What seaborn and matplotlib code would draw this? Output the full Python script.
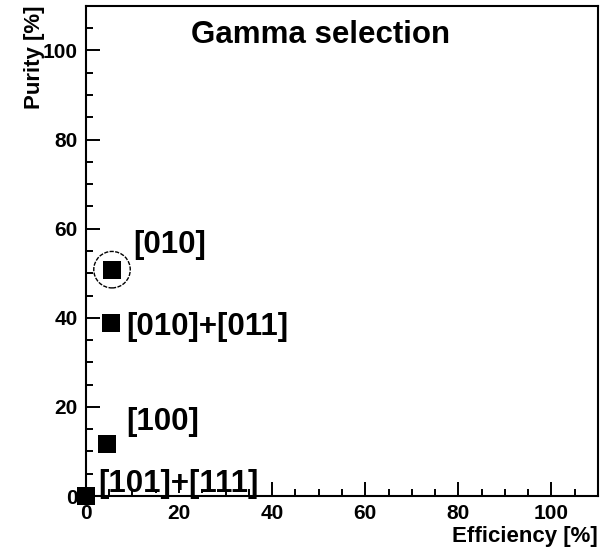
import matplotlib
matplotlib.use("Agg")
import matplotlib.pyplot as plt
import seaborn as sns
import pandas as pd
from matplotlib.ticker import MultipleLocator
from matplotlib.patches import Rectangle

labels = ["[010]", "[010]+[011]", "[100]", "[101]+[111]"]
efficiency = [5.6, 5.4, 4.5, 0.0]
purity = [50.8, 38.9, 11.7, 0.0]
highlight = ["[010]"]

df = pd.DataFrame({"label": labels, "eff": efficiency, "pur": purity})

sns.set_theme(style="ticks")
plt.rcParams["font.family"] = ["Liberation Sans", "DejaVu Sans"]
plt.rcParams["font.weight"] = "bold"
plt.rcParams["text.color"] = "black"
plt.rcParams["axes.labelcolor"] = "black"

fig = plt.figure(figsize=(6.01, 5.47), dpi=100)
ax = fig.add_axes([0.143, 0.0932, 0.852, 0.896])

sns.scatterplot(data=df, x="eff", y="pur", marker="s", s=150, color="black",
                linewidth=0, ax=ax, zorder=3, clip_on=False)
hl = df[df["label"].isin(highlight)]
ax.scatter(hl["eff"], hl["pur"], s=690, facecolors="none", edgecolors="black",
           linewidths=1.0, linestyles=(0, (3, 1)), zorder=3)

offsets = {"[010]": (15, 18), "[010]+[011]": (11, -3), "[100]": (14, 16), "[101]+[111]": (9, 9)}
for lab, x, y in zip(labels, efficiency, purity):
    ax.annotate(lab, (x, y), xytext=offsets[lab], textcoords="offset points",
                fontsize=22.5, fontweight="bold", ha="left", va="center",
                color="black", zorder=4)

ax.set_xlim(0, 110)
ax.set_ylim(0, 110)
ax.xaxis.set_major_locator(MultipleLocator(20))
ax.xaxis.set_minor_locator(MultipleLocator(5))
ax.yaxis.set_major_locator(MultipleLocator(20))
ax.yaxis.set_minor_locator(MultipleLocator(5))
ax.tick_params(which="both", direction="in", top=False, right=False, width=1.4,
               labelsize=15, colors="black")
ax.tick_params(which="major", length=10, pad=6)
ax.tick_params(which="minor", length=5)
for lbl in ax.get_xticklabels() + ax.get_yticklabels():
    lbl.set_fontweight("bold")
for sp in ax.spines.values():
    sp.set_linewidth(1.5)
    sp.set_color("black")

ax.set_xlabel("Efficiency [%]", fontsize=16, fontweight="bold", loc="right",
              labelpad=2, color="black")
ax.set_ylabel("Purity [%]", fontsize=16, fontweight="bold", loc="top",
              labelpad=-2, color="black")

ax.text(0.459, 0.94, "Gamma selection", transform=ax.transAxes, fontsize=22.5,
        fontweight="bold", ha="center", va="center", color="black")

# white gap in the bottom axis line seen in the reference
ax.add_patch(Rectangle((0.115, -0.006), 0.127, 0.012, transform=ax.transAxes,
                       facecolor="white", edgecolor="none", clip_on=False, zorder=2.5))

fig.savefig("out.png", dpi=100)
